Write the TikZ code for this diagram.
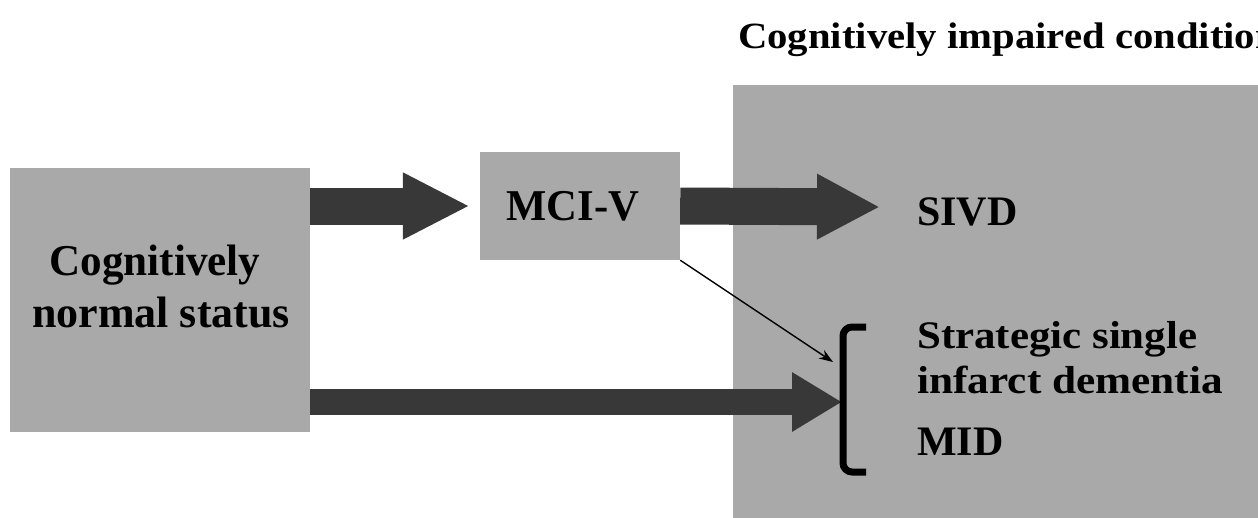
\documentclass[tikz,border=0pt]{standalone}
\usepackage{fontspec}
\setmainfont{Liberation Serif}
\usetikzlibrary{arrows.meta,calc}
\definecolor{boxgray}{HTML}{A9A9A9}
\definecolor{arrowgray}{HTML}{383838}
\newcommand{\stx}[2]{\scalebox{#1}[1]{#2}}
\begin{document}
\begin{tikzpicture}[x=1pt,y=-1pt,
  panel/.style={fill=boxgray, draw=none, inner sep=0pt},
  lbl/.style={inner sep=0pt, font=\bfseries, text=black},
  fatarrow/.style={draw=arrowgray, line width=#1}]
\useasboundingbox (0,0) rectangle (1258,517);
\clip (0,0) rectangle (1258,517);
\fill[white] (0,0) rectangle (1258,517);
% panels
\node[panel, minimum width=300pt, minimum height=264pt] (cn) at (160,300) {};
\node[panel, minimum width=200pt, minimum height=108pt] (mci) at (580,206) {};
\node[panel, minimum width=540pt, minimum height=450pt, anchor=north west] (imp) at (733,85) {};
% texts
\node[lbl, anchor=base west] (title) at (738,48) {\fontsize{37}{40}\selectfont\stx{1.1}{Cognitively impaired condition}};
\node[lbl, anchor=base] (cnt1) at (155,275) {\fontsize{44}{48}\selectfont\stx{0.98}{Cognitively}};
\node[lbl, anchor=base] (cnt2) at (161,327) {\fontsize{44}{48}\selectfont normal status};
\node[lbl, anchor=base] (mcit) at (573,220) {\fontsize{44}{48}\selectfont\stx{0.97}{MCI-V}};
\node[lbl, anchor=base west] (sivd) at (917,225) {\fontsize{42}{46}\selectfont SIVD};
\node[lbl, anchor=base west] (ssid1) at (917,348) {\fontsize{39}{42}\selectfont\stx{1.1}{Strategic single}};
\node[lbl, anchor=base west] (ssid2) at (917,393) {\fontsize{39}{42}\selectfont\stx{1.11}{infarct dementia}};
\node[lbl, anchor=base west] (mid) at (917,455) {\fontsize{42}{46}\selectfont MID};
% connectors
\coordinate (t2) at (880,207);
\coordinate (b3) at (842,402);
\coordinate (t4) at (833,362);
\draw[fatarrow=37pt, -{Triangle[width=62pt,length=67pt]}] (cn.east |- mci.west) -- ([xshift=-10pt]mci.west);
\draw[fatarrow=37pt, -{Triangle[width=61pt,length=63pt]}] (mci.east) -- (t2);
\draw[fatarrow=26pt, -{Triangle[width=56pt,length=50pt]}] (cn.east |- b3) -- (b3);
\draw[line width=1.4pt, -{Stealth[length=14pt,width=10pt]}] (mci.south east) -- (t4);
% bracket
\draw[line width=7pt, rounded corners=9pt] (866,327) -- (843,327) -- (843,472) -- (866,472);
\end{tikzpicture}
\end{document}
